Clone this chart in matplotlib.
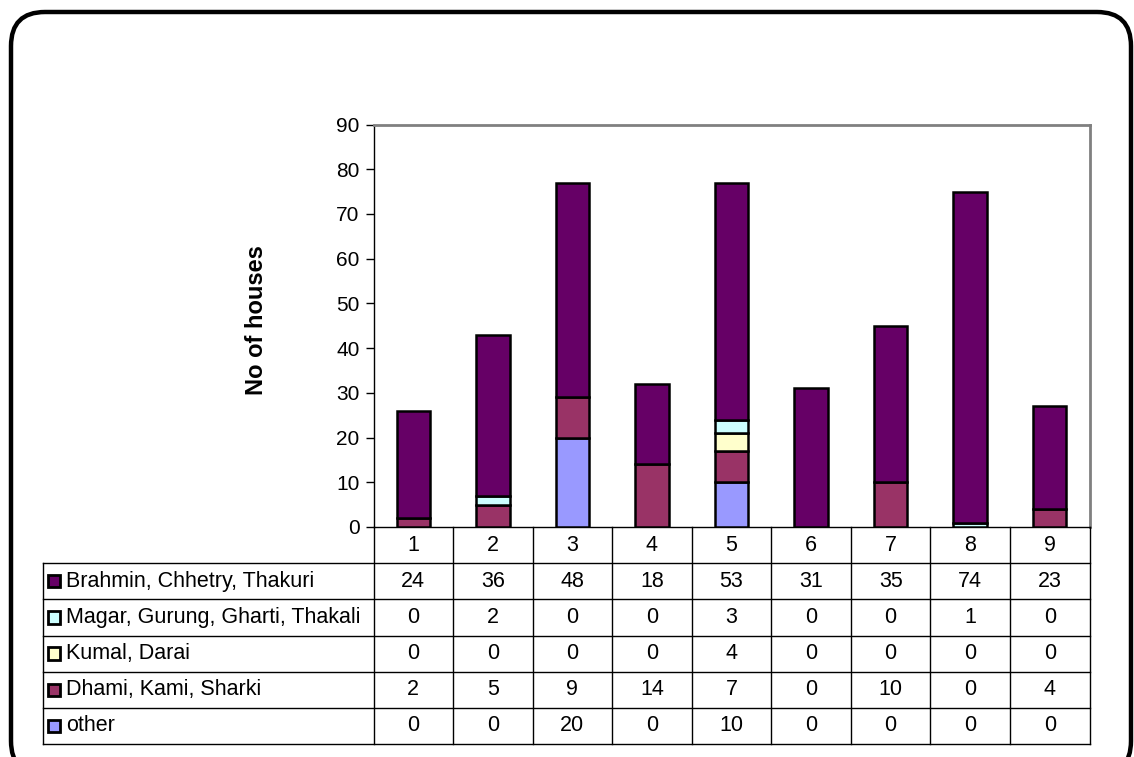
import matplotlib
matplotlib.use("Agg")
import matplotlib.pyplot as plt
from matplotlib.patches import FancyBboxPatch, Rectangle
import numpy as np

plt.rcParams['font.family'] = ['Liberation Sans', 'DejaVu Sans']

categories = ['1', '2', '3', '4', '5', '6', '7', '8', '9']
series_names = ['Brahmin, Chhetry, Thakuri', 'Magar, Gurung, Gharti, Thakali',
                'Kumal, Darai', 'Dhami, Kami, Sharki', 'other']
brahmin = [24, 36, 48, 18, 53, 31, 35, 74, 23]
magar = [0, 2, 0, 0, 3, 0, 0, 1, 0]
kumal = [0, 0, 0, 0, 4, 0, 0, 0, 0]
dhami = [2, 5, 9, 14, 7, 0, 10, 0, 4]
other = [0, 0, 20, 0, 10, 0, 0, 0, 0]
series_colors = ['#660066', '#CCFFFF', '#FFFFCC', '#993366', '#9999FF']
y_ticks = [0, 10, 20, 30, 40, 50, 60, 70, 80, 90]

W, H = 1134, 757
fig = plt.figure(figsize=(W / 100, H / 100), dpi=100)

def fx(px):
    return px / W

def fy(py):
    return 1 - py / H

# rounded outer frame
frame = FancyBboxPatch((fx(11), fy(775)), fx(1120), (775 - 12) / H,
                       boxstyle="round,pad=0,rounding_size=0.03",
                       transform=fig.transFigure, fill=False,
                       edgecolor='black', linewidth=3.2, clip_on=False,
                       mutation_aspect=W / H)
fig.patches.append(frame)

# plot area
L, R, T, B = 373.5, 1089.5, 124.5, 527
ax = fig.add_axes([fx(L), fy(B), fx(R - L), (B - T) / H])
x = np.arange(len(categories))
stack = [other, dhami, kumal, magar, brahmin]
stack_colors = [series_colors[4], series_colors[3], series_colors[2],
                series_colors[1], series_colors[0]]
bottom = np.zeros(len(categories))
for vals, col in zip(stack, stack_colors):
    v = np.array(vals, dtype=float)
    mask = v > 0
    ax.bar(x[mask], v[mask], bottom=bottom[mask], width=0.42, color=col,
           edgecolor='black', linewidth=1.8, zorder=3)
    bottom += v

ax.set_xlim(-0.5, len(categories) - 0.5)
ax.set_ylim(0, 90)
ax.set_yticks(y_ticks)
ax.tick_params(axis='y', direction='out', length=6, width=1, labelsize=15,
               pad=4, colors='black')
ax.set_xticks([])
for s in ['top', 'right']:
    ax.spines[s].set_color('#808080')
    ax.spines[s].set_linewidth(2)
ax.spines['left'].set_color('black')
ax.spines['left'].set_linewidth(1)
ax.spines['bottom'].set_color('black')
ax.spines['bottom'].set_linewidth(1)
ax.set_ylabel('No of houses', fontsize=17, fontweight='bold')
ax.yaxis.set_label_coords((268 - L) / (R - L), (B - 320) / (B - T))

# data table below the plot
TL = 43
row_h = 36
TB = B + row_h * 6 + 1
unit = (R - L) / len(categories)
tax = fig.add_axes([fx(TL), fy(TB), fx(R - TL), (TB - B) / H])
tax.set_xlim(-0.5 - (L - TL) / unit, len(categories) - 0.5)
tax.set_ylim(6, 0)
tax.axis('off')

lw = 1.0
for i in range(len(categories) + 1):
    xv = i - 0.5
    tax.plot([xv, xv], [0, 6], color='black', lw=lw, clip_on=False)
left_edge = -0.5 - (L - TL) / unit
tax.plot([left_edge, left_edge], [1, 6], color='black', lw=lw, clip_on=False)
for r in range(1, 7):
    tax.plot([left_edge, len(categories) - 0.5], [r, r], color='black', lw=lw,
             clip_on=False)

fs = 15.5
for i, c in enumerate(categories):
    tax.text(i, 0.5, c, ha='center', va='center', fontsize=fs)

table_rows = [brahmin, magar, kumal, dhami, other]
key_w = 12 / unit
for r, (name, vals, col) in enumerate(zip(series_names, table_rows, series_colors)):
    yc = r + 1.5
    tax.add_patch(Rectangle((left_edge + 5 / unit, yc - 0.17), key_w, 0.34,
                            facecolor=col, edgecolor='black', lw=2,
                            clip_on=False))
    tax.text(left_edge + 23 / unit, yc, name, ha='left', va='center', fontsize=fs)
    for i, v in enumerate(vals):
        tax.text(i, yc, str(v), ha='center', va='center', fontsize=fs)

fig.savefig('out.png', dpi=100)
